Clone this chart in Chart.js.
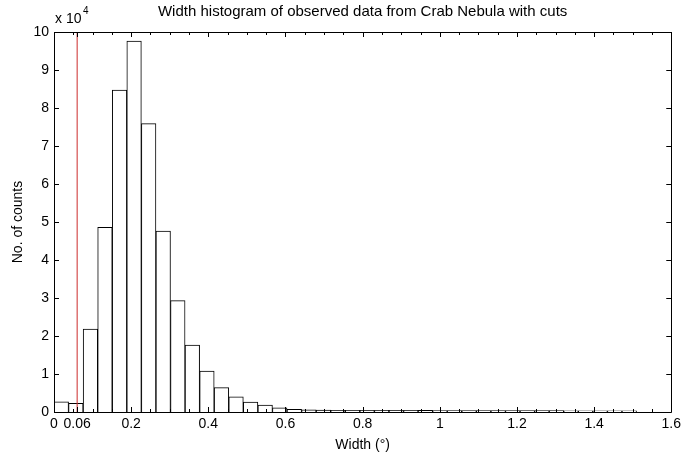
<!DOCTYPE html>
<html>
<head>
<meta charset="utf-8">
<script src="https://cdn.jsdelivr.net/npm/chart.js@4/dist/chart.umd.min.js"></script>
<style>
  html, body { margin: 0; padding: 0; background: #fff; }
  #wrap { width: 685px; height: 461px; }
</style>
</head>
<body>
<div id="wrap"><canvas id="histChart" width="685" height="461"></canvas></div>
<script>
"use strict";

// Bin centres of the width histogram (degrees), 40 bins from 0 to ~1.51
const binCenters = [
  0.0189, 0.0566, 0.0944, 0.1321, 0.1699, 0.2076, 0.2454, 0.2831, 0.3209, 0.3586,
  0.3964, 0.4341, 0.4719, 0.5096, 0.5474, 0.5851, 0.6229, 0.6606, 0.6984, 0.7361,
  0.7739, 0.8116, 0.8494, 0.8871, 0.9249, 0.9626, 1.0004, 1.0381, 1.0759, 1.1136,
  1.1514, 1.1891, 1.2269, 1.2646, 1.3024, 1.3401, 1.3779, 1.4156, 1.4534, 1.4911
];

// Counts
const counts = [
  2700, 2300, 21800, 48600, 84700, 97600, 75900, 47600, 29300, 17600,
  10800, 6400, 4000, 2600, 1800, 1100, 700, 550, 480, 460,
  450, 440, 430, 420, 420, 410, 400, 400, 390, 380,
  380, 370, 360, 360, 350, 340, 340, 330, 320, 310
];

// Cut value drawn as the red line
const cutWidth = 0.06;

// Axis ticks
const xTicks = [0, 0.06, 0.2, 0.4, 0.6, 0.8, 1, 1.2, 1.4, 1.6];
const xMinorTicks = [0.05, 0.1, 0.15, 0.25, 0.3, 0.35, 0.45, 0.5, 0.55, 0.65, 0.7, 0.75,
  0.85, 0.9, 0.95, 1.05, 1.1, 1.15, 1.25, 1.3, 1.35, 1.45, 1.5, 1.55];
const yTicks = [0, 10000, 20000, 30000, 40000, 50000, 60000, 70000, 80000, 90000, 100000];

const FONT = "'Liberation Sans', Arial, sans-serif";

// Matlab style box with inward ticks + exponent label
const boxPlugin = {
  id: "boxPlugin",
  afterDraw(chart) {
    const ctx = chart.ctx;
    const a = chart.chartArea;
    const xs = chart.scales.x;
    const ys = chart.scales.y;
    ctx.save();
    ctx.strokeStyle = "#000";
    ctx.lineWidth = 1;
    ctx.beginPath();
    ctx.rect(Math.round(a.left) + 0.5, Math.round(a.top) + 0.5,
      Math.round(a.right - a.left), Math.round(a.bottom - a.top));
    xTicks.forEach(function (v) {
      let px = Math.round(xs.getPixelForValue(v)) + 0.5;
      ctx.moveTo(px, a.bottom); ctx.lineTo(px, a.bottom - 5);
      ctx.moveTo(px, a.top); ctx.lineTo(px, a.top + 5);
    });
    xMinorTicks.forEach(function (v) {
      let px = Math.round(xs.getPixelForValue(v)) + 0.5;
      ctx.moveTo(px, a.bottom); ctx.lineTo(px, a.bottom - 3);
      ctx.moveTo(px, a.top); ctx.lineTo(px, a.top + 3);
    });
    yTicks.forEach(function (v) {
      let py = Math.round(ys.getPixelForValue(v)) + 0.5;
      ctx.moveTo(a.left, py); ctx.lineTo(a.left + 5, py);
      ctx.moveTo(a.right, py); ctx.lineTo(a.right - 5, py);
    });
    ctx.stroke();

    // "x 10^4" multiplier
    ctx.fillStyle = "#000";
    ctx.textBaseline = "alphabetic";
    ctx.font = "14px " + FONT;
    ctx.fillText("x 10", a.left + 1, a.top - 9);
    ctx.font = "10px " + FONT;
    ctx.fillText("4", a.left + 29, a.top - 18);
    ctx.restore();
  }
};

let barData = binCenters.map(function (x, i) { return { x: x, y: counts[i] }; });

const config = {
  type: "bar",
  data: {
    datasets: [
      {
        type: "line",
        data: [{ x: cutWidth, y: 0 }, { x: cutWidth, y: 100000 }],
        borderColor: "#cc2a2a",
        borderWidth: 1,
        pointRadius: 0,
        order: 0
      },
      {
        data: barData,
        backgroundColor: "#ffffff",
        borderColor: "#000000",
        borderWidth: 1,
        barPercentage: 1,
        categoryPercentage: 1,
        order: 1
      }
    ]
  },
  options: {
    responsive: false,
    animation: false,
    layout: { padding: { left: 0, right: 12, top: 0, bottom: 0 } },
    plugins: {
      legend: { display: false },
      tooltip: { enabled: false },
      title: {
        display: true,
        fullSize: false,
        text: "Width histogram of observed data from Crab Nebula with cuts",
        color: "#000",
        font: { family: FONT, size: 15, weight: "normal", lineHeight: 1.2 },
        padding: { top: 3, bottom: 11 }
      }
    },
    scales: {
      x: {
        type: "linear",
        offset: false,
        min: 0,
        max: 1.6,
        grid: { display: false, drawTicks: false },
        border: { display: false },
        afterBuildTicks: function (scale) {
          scale.ticks = xTicks.map(function (v) { return { value: v }; });
        },
        afterFit: function (scale) { scale.height = 49; },
        ticks: {
          autoSkip: false,
          maxRotation: 0,
          padding: 4,
          color: "#000",
          font: { family: FONT, size: 14 },
          callback: function (v) { return String(v); }
        },
        title: {
          display: true,
          text: "Width (°)",
          color: "#000",
          font: { family: FONT, size: 14 },
          padding: { top: 0, bottom: 7.6 }
        }
      },
      y: {
        min: 0,
        max: 100000,
        grid: { display: false, drawTicks: false },
        border: { display: false },
        afterBuildTicks: function (scale) {
          scale.ticks = yTicks.map(function (v) { return { value: v }; });
        },
        afterFit: function (scale) { scale.width = 54; },
        ticks: {
          padding: 5,
          color: "#000",
          font: { family: FONT, size: 14 },
          callback: function (v) { return String(v / 10000); }
        },
        title: {
          display: true,
          text: "No. of counts",
          color: "#000",
          font: { family: FONT, size: 14 },
          padding: { top: 9.6, bottom: 0 }
        }
      }
    }
  },
  plugins: [boxPlugin]
};

const theChart = new Chart(document.getElementById("histChart").getContext("2d"), config);
</script>
</body>
</html>
